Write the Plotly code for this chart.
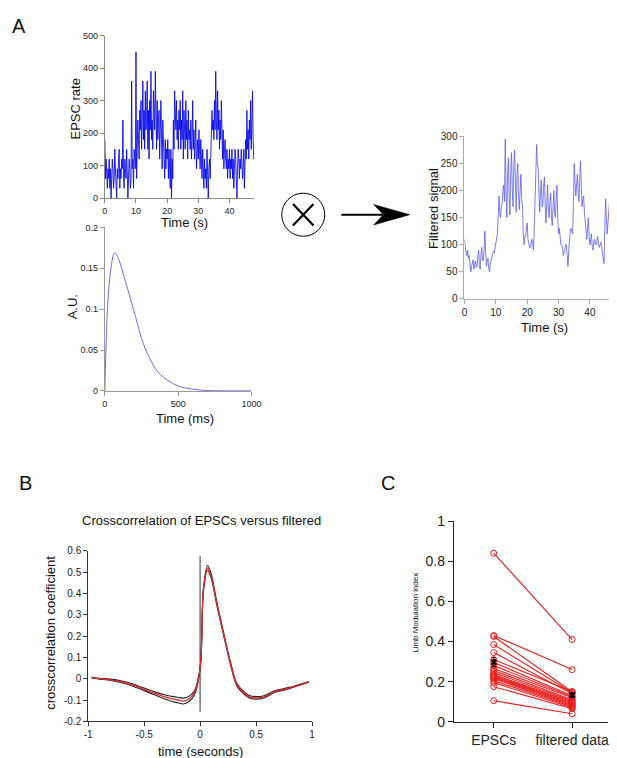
import plotly.graph_objects as go

W, H = 617, 758
FONT = "Liberation Sans, Arial, sans-serif"

# ---- panel A: EPSC rate (0.2 s bins) ----
epsc_rate = [
    180, 60, 120, 90, 30, 90, 60, 120, 30, 90, 0, 60, 120, 90, 30, 60, 150, 90, 60, 0,
    90, 60, 120, 150, 30, 90, 60, 120, 90, 240, 60, 30, 120, 90, 60, 150, 90, 0, 60, 120,
    90, 30, 60, 360, 90, 120, 30, 150, 120, 90, 450, 60, 150, 240, 180, 120, 270, 210, 300, 150,
    240, 360, 180, 270, 150, 330, 210, 240, 360, 150, 270, 120, 300, 210, 390, 180, 240, 150, 330, 270,
    210, 390, 240, 150, 300, 180, 240, 270, 120, 210, 300, 180, 90, 240, 150, 120, 60, 180, 90, 150,
    120, 180, 60, 150, 90, 30, 150, 0, 120, 60, 240, 150, 330, 270, 210, 300, 180, 240, 150, 270,
    210, 300, 150, 240, 180, 330, 120, 270, 210, 150, 300, 180, 240, 120, 270, 180, 210, 150, 240, 120,
    180, 300, 150, 210, 120, 180, 240, 90, 150, 180, 120, 210, 150, 90, 180, 120, 60, 150, 90, 30,
    120, 60, 90, 30, 150, 60, 0, 90, 120, 60, 150, 180, 270, 210, 240, 180, 300, 210, 390, 240,
    180, 330, 210, 270, 150, 240, 180, 300, 150, 120, 210, 90, 150, 180, 120, 90, 150, 60, 120, 90,
    150, 60, 120, 90, 150, 60, 120, 30, 90, 150, 120, 60, 0, 90, 150, 120, 60, 120, 90, 150,
    120, 60, 90, 150, 30, 120, 180, 120, 270, 150, 210, 120, 240, 180, 300, 150, 270, 330, 180, 120,
]

# ---- panel A: kernel ----
kernel_t = [0, 33, 68, 99, 132, 165, 209, 253, 297, 363, 429, 500, 605, 700, 800, 1000]
kernel_au = [0, 0.137, 0.169, 0.159, 0.139, 0.119, 0.091, 0.063, 0.043, 0.023, 0.013, 0.006,
             0.002, 0.0005, 0.0001, 0]

# ---- panel A: filtered signal (0.25 s bins) ----
filtered = [
    110, 95, 85, 80, 90, 75, 80, 65,
    50, 60, 65, 72, 55, 68, 70, 58,
    60, 75, 90, 62, 55, 80, 95, 72,
    70, 90, 125, 85, 60, 70, 75, 55,
    50, 65, 70, 78, 80, 88, 85, 95,
    100, 110, 120, 150, 190, 160, 150, 170,
    175, 200, 210, 180, 295, 200, 150, 230,
    260, 190, 155, 240, 270, 200, 170, 250,
    275, 210, 160, 230, 250, 190, 165, 200,
    230, 185, 170, 120, 100, 115, 115, 130,
    140, 110, 100, 95, 95, 105, 110, 100,
    90, 130, 175, 240, 285, 250, 240, 190,
    160, 200, 220, 170, 175, 210, 225, 170,
    140, 180, 210, 165, 150, 180, 195, 150,
    135, 170, 200, 160, 150, 185, 210, 150,
    120, 130, 110, 100, 100, 95, 80, 85,
    90, 100, 100, 80, 60, 90, 110, 125,
    130, 125, 120, 180, 250, 215, 190, 210,
    230, 200, 180, 220, 255, 210, 170, 185,
    190, 160, 140, 125, 110, 130, 150, 115,
    100, 110, 120, 95, 90, 105, 110, 100,
    100, 108, 115, 100, 95, 100, 105, 95,
    85, 75, 65, 130, 185, 150, 120, 140,
    160, 180, 200, 220, 240, 210, 150, 170,
]

# ---- panel B: crosscorrelation ----
lag = [-0.97, -0.9, -0.8, -0.7, -0.6, -0.5, -0.4, -0.3, -0.25, -0.2, -0.15, -0.1, -0.05, 0.0,
       0.03, 0.066, 0.095, 0.15, 0.21, 0.27, 0.33, 0.39, 0.44, 0.5, 0.57, 0.67, 0.79, 0.97]
xc_mean = [0.005, 0.0, -0.005, -0.015, -0.03, -0.05, -0.07, -0.088, -0.095, -0.1, -0.105, -0.095,
           -0.065, 0.05, 0.42, 0.52, 0.49, 0.35, 0.21, 0.075, -0.03, -0.065, -0.085, -0.09,
           -0.085, -0.06, -0.045, -0.015]
xc_upper = [0.007, 0.002, -0.002, -0.011, -0.025, -0.044, -0.063, -0.078, -0.083, -0.087, -0.091,
            -0.083, -0.055, 0.056, 0.428, 0.532, 0.5, 0.358, 0.216, 0.081, -0.024, -0.059, -0.079,
            -0.084, -0.08, -0.056, -0.042, -0.013]
xc_lower = [0.003, -0.002, -0.008, -0.019, -0.035, -0.056, -0.077, -0.098, -0.107, -0.113, -0.119,
            -0.107, -0.075, 0.044, 0.412, 0.508, 0.48, 0.342, 0.204, 0.069, -0.036, -0.071, -0.091,
            -0.096, -0.09, -0.064, -0.048, -0.017]
zero_lag = [0, 0]
zero_line_y = [-0.155, 0.575]

# ---- panel C: limb modulation index ----
groups = ["EPSCs", "filtered data"]
lmi_epsc = [0.84, 0.43, 0.425, 0.385, 0.345, 0.31, 0.295, 0.28, 0.265, 0.255, 0.245, 0.235,
            0.23, 0.225, 0.22, 0.215, 0.205, 0.195, 0.175, 0.105]
lmi_filt = [0.41, 0.26, 0.15, 0.145, 0.14, 0.15, 0.13, 0.125, 0.12, 0.11, 0.105, 0.1, 0.095,
            0.09, 0.085, 0.08, 0.075, 0.07, 0.065, 0.04]
lmi_mean = [0.297, 0.133]
lmi_sem = [0.022, 0.012]


def px(x, y):
    # pixel position -> paper coords
    return x / W, 1 - y / H


def dom_x(a, b):
    return [a / W, b / W]


def dom_y(top, bottom):
    return [1 - bottom / H, 1 - top / H]


fig = go.Figure()

fig.add_trace(go.Scatter(y=epsc_rate, x0=0, dx=0.2, mode="lines",
                         line=dict(color="rgba(0,0,235,0.85)", width=1),
                         xaxis="x", yaxis="y"))
fig.add_trace(go.Scatter(x=kernel_t, y=kernel_au, mode="lines", line_shape="spline",
                         line=dict(color="#6b6bf0", width=1), xaxis="x2", yaxis="y2"))
fig.add_trace(go.Scatter(y=filtered, x0=0, dx=0.25, mode="lines",
                         line=dict(color="#5a5aec", width=0.8), xaxis="x3", yaxis="y3"))

fig.add_trace(go.Scatter(x=zero_lag, y=zero_line_y, mode="lines",
                         line=dict(color="#777", width=1.5), xaxis="x4", yaxis="y4"))
for yy in (xc_upper, xc_lower):
    fig.add_trace(go.Scatter(x=lag, y=yy, mode="lines", line_shape="spline",
                             line=dict(color="#222", width=1.1), xaxis="x4", yaxis="y4"))
fig.add_trace(go.Scatter(x=lag, y=xc_mean, mode="lines", line_shape="spline",
                         line=dict(color="#e8282a", width=1.3), xaxis="x4", yaxis="y4"))

for a, b in zip(lmi_epsc, lmi_filt):
    fig.add_trace(go.Scatter(x=groups, y=[a, b], mode="lines+markers",
                             line=dict(color="#e81c1c", width=1.1),
                             marker=dict(symbol="circle-open", size=6, color="#e81c1c",
                                         line=dict(width=1)),
                             xaxis="x5", yaxis="y5"))
fig.add_trace(go.Scatter(x=groups, y=lmi_mean, mode="markers",
                         marker=dict(symbol="x-thin-open", size=5, color="black",
                                     line=dict(width=2, color="black")),
                         error_y=dict(type="data", array=lmi_sem, color="black",
                                      thickness=1.2, width=2),
                         xaxis="x5", yaxis="y5"))


def ax(dom, rng, col, fsize, **kw):
    d = dict(domain=dom, range=rng, showline=True, linecolor=col, linewidth=1,
             ticks="outside", ticklen=4, tickcolor=col, tickwidth=1,
             tickfont=dict(size=fsize, color="#222", family=FONT),
             showgrid=False, zeroline=False, fixedrange=True)
    d.update(kw)
    return d


fig.update_layout(
    width=W, height=H, margin=dict(l=0, r=0, t=0, b=0),
    paper_bgcolor="white", plot_bgcolor="white", showlegend=False,
    font=dict(family=FONT, color="#111"),
    xaxis=ax(dom_x(95, 248), [0, 48], "#888", 9, anchor="y", tickvals=[0, 10, 20, 30, 40]),
    yaxis=ax(dom_y(20, 186), [0, 500], "#888", 9, anchor="x",
             tickvals=[0, 100, 200, 300, 400, 500]),
    xaxis2=ax(dom_x(95, 245), [0, 1000], "#999", 9, anchor="y2", tickvals=[0, 500, 1000]),
    yaxis2=ax(dom_y(216, 383), [0, 0.2], "#999", 9, anchor="x2",
              tickvals=[0, 0.05, 0.1, 0.15, 0.2], ticktext=["0", "0.05", "0.1", "0.15", "0.2"]),
    xaxis3=ax(dom_x(463, 617), [0, 48], "#aaa", 10, anchor="y3", tickvals=[0, 10, 20, 30, 40]),
    yaxis3=ax(dom_y(123, 289), [0, 300], "#aaa", 10, anchor="x3",
              tickvals=[0, 50, 100, 150, 200, 250, 300]),
    xaxis4=ax(dom_x(78, 307), [-1, 1], "#333", 10, anchor="y4",
              tickvals=[-1, -0.5, 0, 0.5, 1], ticktext=["-1", "-0.5", "0", "0.5", "1"]),
    yaxis4=ax(dom_y(546.5, 720.5), [-0.2, 0.6], "#333", 10, anchor="x4",
              tickvals=[-0.2, -0.1, 0, 0.1, 0.2, 0.3, 0.4, 0.5, 0.6],
              ticktext=["-0.2", "-0.1", "0", "0.1", "0.2", "0.3", "0.4", "0.5", "0.6"]),
    xaxis5=ax(dom_x(452, 610), [-0.51, 1.46], "#222", 14, anchor="y5", type="category",
              categoryorder="array", categoryarray=groups, ticklen=5),
    yaxis5=ax(dom_y(516, 721), [0, 1], "#222", 14, anchor="x5",
              tickvals=[0, 0.2, 0.4, 0.6, 0.8, 1], ticktext=["0", "0.2", "0.4", "0.6", "0.8", "1"],
              ticklen=5),
)

texts = [
    ("A", 7.5, 10, 20, 0), ("B", 13.5, 477, 20, 0), ("C", 385, 477, 20, 0),
    ("EPSC rate", 65, 95, 13, -90), ("Time (s)", 177, 211, 13, 0),
    ("A.U.", 62, 297, 13, -90), ("Time (ms)", 177, 411, 13, 0),
    ("Filtered signal", 432, 197, 13, -90), ("Time (s)", 545, 318, 13, 0),
    ("Crosscorrelation of EPSCs versus filtered", 194, 515, 13, 0),
    ("crosscorrelation coefficient", 40, 630, 13, -90), ("time (seconds)", 193, 751, 13, 0),
    ("Limb Modulation index", 412, 610, 8, -90),
]
for t, x, y, s, rot in texts:
    xp, yp = px(x, y)
    fig.add_annotation(text=t, x=xp, y=yp, xref="paper", yref="paper", showarrow=False,
                       xanchor="center", yanchor="middle", textangle=rot,
                       font=dict(size=s, color="#111", family=FONT))

# convolution symbol and arrow
c0, c1 = px(276, 181), px(320, 225)
fig.add_shape(type="circle", xref="paper", yref="paper", x0=c0[0], y0=c1[1], x1=c1[0], y1=c0[1],
              line=dict(color="black", width=1))
for (xa, ya), (xb, yb) in [((287.5, 192), (308.5, 214)), ((287.5, 214), (308.5, 192))]:
    p, q = px(xa, ya), px(xb, yb)
    fig.add_shape(type="line", xref="paper", yref="paper", x0=p[0], y0=p[1], x1=q[0], y1=q[1],
                  line=dict(color="black", width=2.2))
p, q = px(337, 203), px(385, 203)
fig.add_shape(type="line", xref="paper", yref="paper", x0=p[0], y0=p[1], x1=q[0], y1=q[1],
              line=dict(color="black", width=2))
head = [px(407, 203), px(370, 192.5), px(380, 203), px(370, 213.5)]
path = "M " + " L ".join(f"{a:.5f},{b:.5f}" for a, b in head) + " Z"
fig.add_shape(type="path", xref="paper", yref="paper", path=path,
              fillcolor="black", line=dict(color="black", width=0.5))

fig.write_html("out.html")
